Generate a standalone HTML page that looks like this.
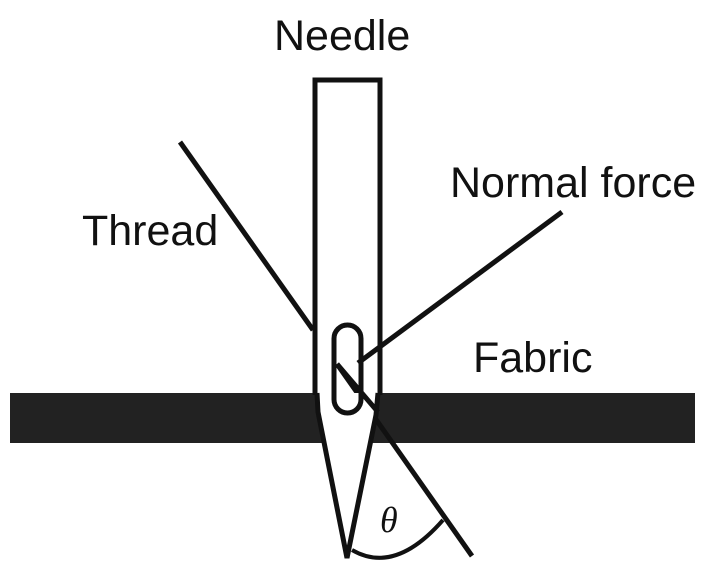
<!DOCTYPE html>
<html><head><style>
html,body{margin:0;padding:0;background:#fff;}
svg{display:block;}
text{font-family:"Liberation Sans",sans-serif;fill:#111;font-size:43px;}
</style></head><body>
<svg width="711" height="578" viewBox="0 0 711 578">
<rect x="10" y="393" width="685" height="50" fill="#222"/>
<!-- thread -->
<line x1="180" y1="142" x2="313" y2="330" stroke="#111" stroke-width="5"/>
<line x1="337" y1="364" x2="472" y2="556" stroke="#111" stroke-width="5"/>
<!-- normal force -->
<line x1="562" y1="212" x2="358" y2="363" stroke="#111" stroke-width="5"/>
<!-- needle body -->
<polyline points="315,395 315,80 380,80 380,395" fill="none" stroke="#111" stroke-width="5"/>
<polygon points="317,393 378,393 376,415 347,558 318,412" fill="#fff"/>
<polyline points="317,393 318,412 347,558 376,415 378,393" fill="none" stroke="#111" stroke-width="5"/>
<!-- eye -->
<rect x="334" y="325" width="27" height="88" rx="13.5" fill="none" stroke="#111" stroke-width="5"/>
<line x1="337" y1="364" x2="378" y2="412" stroke="#111" stroke-width="5"/>
<!-- angle arc -->
<path d="M352 550 Q395 575 443 520" fill="none" stroke="#111" stroke-width="4"/>
<text x="380" y="532" font-family="Liberation Serif" style="font-family:'Liberation Serif',serif;font-style:italic;font-size:36px">θ</text>
<text x="274" y="50">Needle</text>
<text x="82" y="245">Thread</text>
<text x="450" y="197">Normal force</text>
<text x="473" y="372">Fabric</text>
</svg>
</body></html>
